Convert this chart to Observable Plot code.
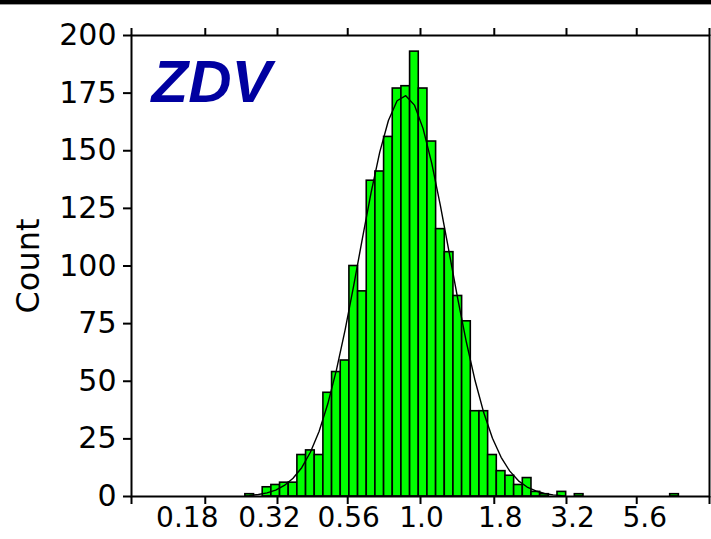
<!DOCTYPE html>
<html>
<head>
<meta charset="utf-8">
<script src="https://cdn.jsdelivr.net/npm/d3@7"></script>
<script src="https://cdn.jsdelivr.net/npm/@observablehq/plot@0.6"></script>
<style>
  html, body { margin: 0; padding: 0; background: #fff; }
  #wrap { position: relative; width: 711px; height: 539px; overflow: hidden; }
  #band { position: absolute; left: 0; top: 0; width: 711px; height: 4px; background: #000; border-bottom: 1px solid #9a9a9a; }
</style>
</head>
<body>
<div id="wrap"><div id="band"></div></div>
<script>
// Fold-change histogram, bins evenly spaced on the log10 axis.
const binLoLog10 = -0.606;    // log10 of the first bin's lower edge
const binWidthLog10 = 0.03;   // bin width in log10 units

// Counts per bin, left to right
const counts = [
  1, 0, 4, 5, 6, 6, 18, 20, 18, 45,
  54, 59, 100, 89, 137, 141, 156, 177, 178, 193,
  177, 154, 116, 106, 87, 76, 37, 37, 18, 11,
  9, 5, 8, 2, 1, 0, 2, 0, 1, 0,
  0, 0, 0, 0, 0, 0, 0, 0, 0, 1
];

// Fitted log-normal curve, expected count at each bin centre
const fitCounts = [
  0.45, 0.85, 1.6, 2.8, 4.8, 7.9, 12.5, 19.2, 28.2, 40.1,
  54.8, 72.2, 91.6, 112, 131.8, 149.4, 163.1, 171.7, 173.9, 169.8,
  159.6, 144.5, 126.1, 106, 85.7, 66.8, 50.2, 36.3, 25.3, 17,
  11, 6.8, 4.1, 2.4, 1.3, 0.7, 0.4
];

// Axis ticks and labels (ends of the axis carry a tick but no label)
const xTicks = [0.1, 0.18, 0.32, 0.56, 1.0, 1.8, 3.2, 5.6, 10];
const xLabelTicks = [0.18, 0.32, 0.56, 1.0, 1.8, 3.2, 5.6];
const xTickLabels = ["0.18", "0.32", "0.56", "1.0", "1.8", "3.2", "5.6"];
const yTicks = [0, 25, 50, 75, 100, 125, 150, 175, 200];

const drugName = "ZDV";
const yTitle = "Count";

const edge = i => 10 ** (binLoLog10 + i * binWidthLog10);
const bars = counts
  .map((count, i) => ({lo: edge(i), hi: edge(i + 1), count}))
  .filter(d => d.count > 0);
const fit = fitCounts.map((count, i) => ({x: edge(i + 0.5), count}));

// horizontal nudge (px) of each bottom tick label off its tick
const labelNudge = [-18, -8, 1, 1, 6, 6, 8];
const xLabelMarks = xLabelTicks.map((x, i) =>
  Plot.text([{x, label: xTickLabels[i]}], {x: "x", text: "label", frameAnchor: "bottom", lineAnchor: "top",
    dy: 11, dx: labelNudge[i], fontSize: 28, fill: "black"}));

const labelFont = "'DejaVu Sans', sans-serif";

const chart = Plot.plot({
  width: 711,
  height: 539,
  marginLeft: 131,
  marginRight: 2,
  marginTop: 35,
  marginBottom: 43,
  style: {fontFamily: labelFont, color: "black", background: "transparent", overflow: "visible"},
  x: {type: "log", domain: [0.1, 10], axis: null},
  y: {domain: [0, 200], axis: null},
  marks: [
    Plot.rectY(bars, {x1: "lo", x2: "hi", y: "count", fill: "#00ff00", stroke: "black", strokeWidth: 1.6}),
    Plot.line(fit, {x: "x", y: "count", stroke: "black", strokeWidth: 1.4}),
    Plot.frame({stroke: "black", strokeWidth: 2}),
    Plot.axisX({anchor: "bottom", ticks: xTicks, tickFormat: () => "", tickSize: 8, strokeWidth: 2, label: null}),
    ...xLabelMarks,
    Plot.axisX({anchor: "top", ticks: xTicks, tickFormat: () => "", tickSize: 8, strokeWidth: 2, label: null}),
    Plot.axisY({anchor: "left", ticks: yTicks, tickSize: 8, tickPadding: 7, strokeWidth: 2, fontSize: 30, fill: "black", label: null}),
    Plot.text([drugName], {frameAnchor: "top-left", dx: 20, dy: 24, textAnchor: "start", lineAnchor: "top",
      fill: "#0000a0", fontSize: 60, fontWeight: "bold", fontStyle: "italic", fontFamily: "'Liberation Sans', Arial, sans-serif"}),
    Plot.text([yTitle], {frameAnchor: "left", dx: -103, rotate: -90, textAnchor: "middle", fontSize: 32, fill: "black"})
  ]
});

document.getElementById("wrap").appendChild(chart);
</script>
</body>
</html>
